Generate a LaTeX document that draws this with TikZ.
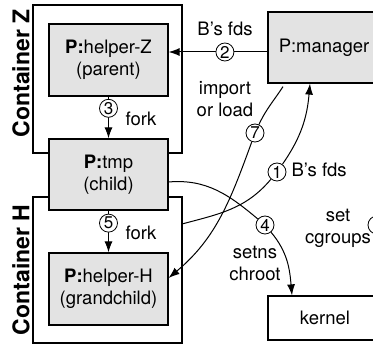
\documentclass[tikz,border=0pt]{standalone}
\usepackage{fontspec}
\setmainfont{TeX Gyre Heros}
\usetikzlibrary{arrows.meta}

\begin{document}
\begin{tikzpicture}[x=1pt, y=1pt,
    box/.style={draw, line width=1.2pt, fill=gray!22, align=center, inner sep=0pt,
      minimum width=119pt, minimum height=72pt, font=\fontsize{18.5}{22}\selectfont},
    frame/.style={draw, line width=1.2pt, inner sep=0pt},
    num/.style={draw, circle, fill=white, line width=0.8pt, inner sep=0pt,
      minimum size=18pt, font=\fontsize{17}{17}\selectfont},
    arr/.style={line width=1pt, -{Latex[length=11pt, width=8pt]}},
    txt/.style={align=center, font=\fontsize{18.5}{22}\selectfont},
    contlabel/.style={rotate=90, font=\fontsize{23}{23}\selectfont\bfseries}]

        \useasboundingbox (0,0) rectangle (373,345);
        \clip (0,0) rectangle (373,345);

        % Container
        \node[frame, minimum width=149pt, minimum height=148pt] (contZ) at (107.5,266) {};
        \node[frame, minimum width=149pt, minimum height=146pt] (contH) at (107.5,75) {};
        \node[contlabel] (labZ) at (21,271.5) {Container Z};
        \node[contlabel] (labH) at (21,75) {Container H};

        % Prozesse
        \node[box] (helperZ) at (108.5,285) {{\bfseries P:}helper-Z\\(parent)};
        \node[box, minimum height=71pt] (tmp) at (108.5,170.5) {{\bfseries P:}tmp\\(child)};
        \node[box] (helperH) at (108.5,56) {{\bfseries P:}helper-H\\(grandchild)};
        \node[box, minimum width=112pt, minimum height=71pt] (manager) at (324,297.5) {P:manager};
        \node[box, fill=white, minimum width=114pt, minimum height=44pt] (kernel) at (325,27) {kernel};

        % 2: B's fds
        \draw[arr] ([yshift=-4.5pt]manager.west) -- ([yshift=8pt]helperZ.east) node[num, pos=0.43] (n2) {2};
        \node[txt] (fds2) at (225,316) {B’s fds};

        % 3 und 5: fork
        \draw[arr] (helperZ) -- (tmp) node[num, pos=0.28] (n3) {3};
        \node[txt, anchor=west] (fork3) at (122,226) {fork};
        \draw[arr] (tmp) -- (helperH) node[num, pos=0.3] (n5) {5};
        \node[txt, anchor=west] (fork5) at (122,112) {fork};

        % 1: B's fds
        \coordinate (fdsout) at (182,121);
        \node[num] (n1) at (277,173) {1};
        \draw[line width=1pt] (fdsout) to[out=15, in=230] (n1);
        \draw[arr] (n1) to[out=55, in=-95] ([xshift=-14pt]manager.south);
        \node[txt, anchor=west] (fds1) at (288,175) {B’s fds};

        % 4: setns
        \node[num] (n4) at (265,120) {4};
        \draw[line width=1pt] ([yshift=-7.5pt]tmp.east) to[out=5, in=140] (n4);
        \draw[arr] (n4) to[out=-50, in=95] ([xshift=-33pt]kernel.north);
        \node[txt] (setns) at (255,82) {setns\\chroot};

        % 6: cgroups
        \node[num] (n6) at (377,120) {6};
        \draw[line width=1pt] (manager.south -| n6) -- (n6);
        \draw[arr] (n6) -- (kernel.north -| n6);
        \node[txt] (cgroups) at (338,117) {set\\cgroups};

        % 7: import
        \node[num] (n7) at (255,212) {7};
        \draw[line width=1pt] ([xshift=-41pt, yshift=-3pt]manager.south) to[out=237, in=65] (n7);
        \draw[arr] (n7) to[out=250, in=40] ([yshift=11pt]helperH.east);
        \node[txt] (import) at (225,246) {import\\or load};

    \end{tikzpicture}
\end{document}
